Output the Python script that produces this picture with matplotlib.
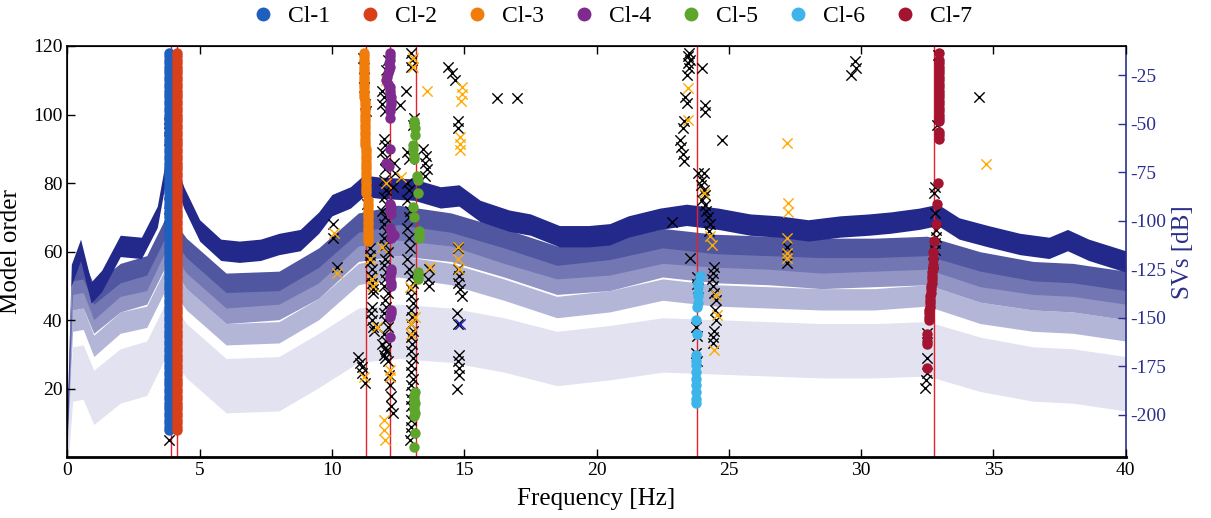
import numpy as np
import matplotlib.pyplot as plt
from matplotlib.lines import Line2D

plt.rcParams['font.family'] = ['Liberation Serif', 'DejaVu Serif']
plt.rcParams['axes.unicode_minus'] = False

# ---- singular value spectra (dB) ----
sv_freq = [0.0, 0.15, 0.5, 0.9, 1.3, 2.0, 2.8, 3.4, 3.8, 4.0, 4.4, 5.0, 5.8, 6.5, 7.3, 8.0, 8.8,
           9.5, 10.0, 10.7, 11.2, 11.8, 13.1, 14.1, 14.8, 15.6, 16.7, 17.5, 18.6, 19.7, 20.5,
           21.2, 22.4, 23.4, 24.6, 25.8, 26.9, 28.0, 29.2, 30.3, 31.1, 32.2, 32.9, 33.7, 34.8,
           36.0, 37.1, 37.8, 38.6, 40.0]
sv1 = [-203, -128, -115, -137, -131, -113, -114, -98, -68, -72, -88, -105, -115, -116, -115,
       -112, -110, -101, -92, -88, -82, -83, -84, -88, -87, -95, -100, -102, -108, -108, -107,
       -103, -99, -97, -99, -102, -103, -105, -103, -102, -101, -99, -97, -104, -108, -112,
       -114, -110, -115, -121]

sv_freq_b = [0.0, 0.2, 0.6, 1.0, 2.0, 3.0, 3.8, 4.5, 6.0, 8.0, 9.5, 11.0, 12.5, 14.5, 16.5,
             18.5, 20.5, 22.5, 24.5, 26.5, 28.5, 30.5, 32.5, 34.5, 36.5, 38.0, 40.0]
sv2 = [-203, -126, -125, -138, -127, -123, -101, -114, -132, -131, -119, -101, -97, -101, -109,
       -118, -115, -109, -112, -113, -114, -114, -113, -121, -126, -127, -131]
sv3 = [-205, -133, -132, -146, -134, -131, -108, -122, -140, -138, -127, -108, -105, -108, -117,
       -125, -123, -117, -119, -120, -122, -121, -120, -129, -133, -134, -138]
sv4 = [-207, -141, -140, -153, -142, -138, -116, -130, -148, -146, -135, -116, -113, -116, -124,
       -133, -131, -124, -127, -128, -130, -129, -128, -137, -141, -142, -146]
sv5 = [-209, -151, -150, -164, -152, -149, -127, -140, -158, -157, -145, -127, -123, -127, -135,
       -144, -141, -135, -138, -139, -140, -140, -138, -147, -151, -152, -156]
sv6 = [-212, -175, -174, -187, -176, -172, -150, -163, -181, -180, -168, -155, -153, -155, -160,
       -167, -164, -160, -161, -162, -163, -163, -162, -170, -175, -176, -180]

# ---- selected modes (red lines), Hz ----
sel_freq = [3.91, 4.16, 11.29, 12.19, 13.18, 23.80, 32.75]

# ---- clusters (frequency, model order) ----
cl1_o = list(range(8, 119))
cl1_f = [3.86] * len(cl1_o)
cl2_o = list(range(8, 119))
cl2_f = [4.16] * len(cl2_o)
cl3_o = list(range(118, 104, -1)) + list(range(104, 90, -1)) + list(range(90, 76, -1)) + list(range(75, 62, -1))
cl3_f = [11.21] * 14 + [11.25] * 14 + [11.29] * 14 + [11.36] * 13
cl4_o = [118, 117, 116, 115, 114, 113, 112, 111, 110, 109, 108, 107, 106, 105, 104, 103, 102, 101, 99,
         90, 86, 85, 74, 73, 72, 71, 67, 66, 65, 64, 55, 54, 53, 52, 51, 50, 43, 42, 41, 35]
cl4_f = [12.2, 12.2, 12.2, 12.15, 12.2, 12.15, 12.12, 12.08, 12.05, 12.1, 12.2, 12.2, 12.2, 12.22,
         12.22, 12.22, 12.2, 12.2, 12.18, 12.18, 12.05, 12.15, 12.2, 12.22, 12.2, 12.22, 12.2, 12.25,
         12.35, 12.25, 12.22, 12.22, 12.2, 12.2, 12.22, 12.22, 12.22, 12.22, 12.2, 12.2]
cl5_o = [98, 97, 96, 94, 91, 90, 88, 87, 82, 81, 77, 73, 70, 66, 65, 64, 54, 53, 52,
         19, 18, 17, 16, 15, 14, 13, 12, 7, 3]
cl5_f = [13.12, 13.12, 13.15, 13.15, 13.05, 13.08, 13.1, 13.12, 13.22, 13.25, 13.27, 13.08, 13.1,
         13.28, 13.3, 13.28, 13.25, 13.27, 13.25, 13.13, 13.12, 13.12, 13.13, 13.12, 13.12, 13.13,
         13.12, 13.13, 13.1]
cl6_o = [53, 51, 50, 48, 47, 45, 44, 40, 36, 30, 28, 27, 25, 23, 21, 19, 17, 16]
cl6_f = [23.9, 23.83, 23.83, 23.83, 23.82, 23.82, 23.8, 23.76, 23.78, 23.77, 23.77, 23.76, 23.76,
         23.76, 23.75, 23.75, 23.75, 23.75]
cl7_o = [118, 116, 115, 114, 113, 112, 111, 110, 109, 108, 107, 106, 105, 104, 103, 102, 101, 100,
         99, 98, 95, 94, 93, 80, 74, 68, 63, 60, 58, 56, 55, 54, 53, 52, 51, 50, 49, 48, 47, 46, 45,
         44, 43, 42, 41, 40, 36, 34, 33, 26]
cl7_f = [32.96] * 23 + [32.9, 32.88, 32.82, 32.75, 32.73, 32.72, 32.7, 32.7, 32.69, 32.68, 32.67,
                        32.66, 32.65, 32.64, 32.63, 32.62, 32.61, 32.6, 32.59, 32.58, 32.57, 32.56,
                        32.55, 32.5, 32.5, 32.5, 32.5]

clusters = [(cl1_f, cl1_o), (cl2_f, cl2_o), (cl3_f, cl3_o), (cl4_f, cl4_o),
            (cl5_f, cl5_o), (cl6_f, cl6_o), (cl7_f, cl7_o)]
cl_names = ['Cl-1', 'Cl-2', 'Cl-3', 'Cl-4', 'Cl-5', 'Cl-6', 'Cl-7']
cl_colors = ['#1f5fbd', '#d8401a', '#f07d0a', '#7e2a8e', '#5ea52c', '#3db5ea', '#a2142f']

# ---- unstable poles (black) ----
black_x = [
    (3.86, 96), (3.86, 92.6), (3.84, 97.5), (3.86, 69.8), (3.86, 5.1),
    (10.03, 68.2), (10.03, 64), (10.2, 55.6),
    (11.19, 116.4), (11.2, 113.5), (11.21, 110.7), (11.22, 108), (11.26, 103), (11.28, 101),
    (11.33, 74), (11.44, 61), (11.42, 59), (11.44, 57), (11.5, 55), (11.48, 53), (11.5, 51),
    (11.56, 49), (11.55, 48), (11.5, 44), (11.48, 42), (11.5, 40), (11.56, 38), (11.58, 37),
    (11.0, 29.4), (11.05, 27.5), (11.12, 26.5), (11.15, 24.5), (11.25, 21.6),
    (12.1, 116), (12.05, 113), (11.9, 107), (11.95, 105), (11.9, 103), (12.0, 101), (12.57, 102.8),
    (11.95, 93), (12.0, 91), (11.9, 89), (12.0, 87), (12.35, 86), (12.4, 83), (12.3, 79),
    (12.0, 84), (11.95, 81), (12.05, 78), (11.95, 76), (12.05, 74), (11.9, 72), (12.0, 70),
    (11.95, 68), (12.05, 66), (11.95, 64), (12.0, 62), (12.1, 60), (12.0, 58), (11.95, 56),
    (12.05, 54), (12.0, 52), (11.95, 50), (12.1, 48), (12.0, 46), (12.05, 44), (11.95, 42),
    (12.0, 40), (12.1, 38), (11.95, 36), (12.05, 34), (11.9, 33), (12.0, 32), (12.05, 31),
    (11.95, 30), (12.0, 29), (12.1, 28), (12.15, 24), (12.2, 21), (12.25, 18), (12.25, 15),
    (12.3, 13),
    (13.0, 118), (13.02, 116), (12.98, 114), (12.8, 107), (13.1, 99), (13.08, 97),
    (13.45, 90), (13.55, 88), (13.5, 86), (13.58, 84), (13.5, 82), (12.85, 89), (12.9, 87),
    (12.85, 80), (12.9, 78), (12.85, 75), (12.95, 72), (12.9, 70), (12.85, 67), (12.9, 64),
    (12.95, 61), (12.85, 58), (12.9, 55), (13.0, 53), (13.05, 51), (12.98, 49), (13.0, 47),
    (13.05, 45), (13.0, 43), (13.02, 41), (12.98, 39), (13.05, 37), (13.0, 35), (13.02, 33),
    (13.0, 31), (13.05, 29), (12.98, 27), (13.0, 25), (13.05, 23), (13.0, 21), (13.02, 19),
    (12.98, 17), (13.0, 15), (13.05, 13), (13.0, 11), (12.98, 9), (13.0, 7), (12.95, 5),
    (13.65, 55), (13.62, 52), (13.68, 50),
    (14.4, 114), (14.55, 112), (14.65, 110), (14.78, 98), (14.78, 96), (14.78, 61), (14.75, 55),
    (14.8, 53), (14.78, 51), (14.85, 49), (14.9, 47), (14.72, 42), (14.78, 39), (14.8, 30),
    (14.78, 28), (14.8, 26), (14.82, 24), (14.72, 20), (16.23, 104.8), (17.0, 104.8),
    (23.5, 118), (23.47, 117), (23.55, 116), (23.45, 115), (23.5, 113.5), (23.42, 111.5),
    (23.98, 113.5), (23.35, 105), (23.4, 103.5), (23.3, 98), (23.28, 96), (24.1, 102.8),
    (24.1, 100.8), (23.15, 92.5), (23.2, 90.5), (23.28, 88.5), (23.3, 86.5), (24.73, 92.6),
    (23.85, 83), (24.05, 83), (24.0, 81), (23.95, 79.5), (24.05, 78), (24.1, 76.5), (24.0, 75),
    (24.1, 73.5), (24.15, 72), (24.2, 70), (24.3, 68), (24.25, 66), (22.84, 68.8), (23.53, 58.1),
    (23.78, 52.5), (23.8, 50.5), (23.82, 49.5), (24.45, 55.6), (24.4, 53.7), (24.38, 52),
    (24.42, 50), (24.45, 48), (24.5, 46), (24.48, 43), (24.5, 40), (24.45, 37), (24.4, 35),
    (24.42, 33.5), (23.76, 38), (23.78, 35.5), (23.76, 30.5), (23.78, 28),
    (27.19, 61.5), (27.2, 56.6), (29.75, 115.5), (29.8, 113.5), (29.6, 111.5), (34.45, 105),
    (32.92, 117.4), (32.86, 97), (32.8, 79), (32.75, 77), (32.8, 71.2), (32.82, 66.3),
    (32.82, 64.4), (32.78, 62.5), (32.8, 60.5), (32.7, 56.6), (32.48, 36.2), (32.5, 28.9),
    (32.5, 24.6), (32.45, 22.6), (32.4, 20.2),
]
# ---- orange crosses ----
orange_x = [
    (10.06, 65.4), (10.2, 53.7), (11.44, 58), (11.52, 52), (11.55, 50), (11.69, 38), (11.2, 23.6),
    (12.05, 110), (12.05, 80), (11.9, 61.4), (12.2, 25.5), (12.2, 23.5), (11.95, 11), (11.97, 8),
    (12.0, 5), (13.05, 116.5), (13.05, 114), (13.6, 107), (12.6, 81.8), (12.95, 49.7),
    (13.15, 41), (12.97, 39), (13.0, 36), (13.7, 55.6), (14.9, 108), (14.9, 106), (14.88, 104),
    (14.85, 93.5), (14.85, 91.5), (14.85, 89.7), (14.78, 61.4), (14.78, 58), (14.82, 55),
    (23.47, 107.8), (23.47, 98.5), (24.05, 77), (24.3, 64.5), (24.35, 62), (24.5, 47.5),
    (24.55, 41.5), (24.45, 31.4), (27.19, 91.6), (27.25, 74.1), (27.25, 71.7), (27.2, 63.9),
    (27.2, 59.5), (27.2, 58.1), (34.7, 85.6),
]
blue_x = [(3.86, 74.2), (14.85, 39)]

navy = '#2b2f8a'

fig = plt.figure(figsize=(12.11, 5.18), dpi=100)
ax = fig.add_axes([0.0556, 0.1168, 0.874, 0.7944])
ax2 = ax.twinx()
ax.set_zorder(ax2.get_zorder() + 1)
ax.patch.set_visible(False)

# spectra on the right axis, lightest first
layers = [(sv_freq_b, sv6, '#e2e2f0', 10, 18), (sv_freq_b, sv5, '#b4b6d8', 5, 6),
          (sv_freq_b, sv4, '#9396c5', 5, 5), (sv_freq_b, sv3, '#7277b3', 5, 5),
          (sv_freq_b, sv2, '#50569f', 5, 5), (sv_freq, sv1, '#23298a', 5.5, 5.5)]
for fr, v, c, up, dn in layers:
    v = np.array(v, dtype=float)
    ax2.fill_between(fr, v - dn, v + up, color=c, lw=0)

ax2.set_ylim(-222, -10)
ax2.set_yticks([-200, -175, -150, -125, -100, -75, -50, -25])
ax2.tick_params(axis='y', direction='in', length=6, colors=navy, labelsize=14, width=1)
ax2.spines['right'].set_color(navy)
ax2.spines['right'].set_linewidth(1.2)
ax2.set_ylabel('SVs [dB]', color=navy, fontsize=18, labelpad=4)

for f in sel_freq:
    ax.axvline(f, color='#e8202a', lw=1.0, zorder=1)

ax.scatter(*zip(*black_x), marker='x', s=55, color='black', linewidths=1.0, zorder=2)
ax.scatter(*zip(*orange_x), marker='x', s=55, color='#ffaa00', linewidths=1.0, zorder=2)
ax.scatter(*zip(*blue_x), marker='x', s=55, color='#2020c0', linewidths=1.0, zorder=2)

handles = []
for (fr, od), name, c in zip(clusters, cl_names, cl_colors):
    ax.plot(fr, od, 'o', color=c, markersize=7.5, markeredgewidth=0, zorder=3)
    handles.append(Line2D([], [], marker='o', ls='none', color=c, markersize=10,
                          markeredgewidth=0, label=name))

ax.set_xlim(0, 40)
ax.set_ylim(0, 120)
ax.set_xticks(range(0, 41, 5))
ax.set_yticks([20, 40, 60, 80, 100, 120])
ax.tick_params(direction='in', length=6, labelsize=14, top=True, right=False, width=1)
ax.spines['right'].set_visible(False)
for s in ['left', 'top', 'bottom']:
    ax.spines[s].set_linewidth(1.2)
ax.spines['bottom'].set_linewidth(2)
ax.set_xlabel('Frequency [Hz]', fontsize=18, labelpad=6)
ax.set_ylabel('Model order', fontsize=18, labelpad=8)

fig.legend(handles=handles, loc='upper center', bbox_to_anchor=(0.5, 1.03), ncol=7,
           frameon=False, fontsize=17, handletextpad=0.05, columnspacing=0.7)

fig.savefig('out.png', dpi=100)
